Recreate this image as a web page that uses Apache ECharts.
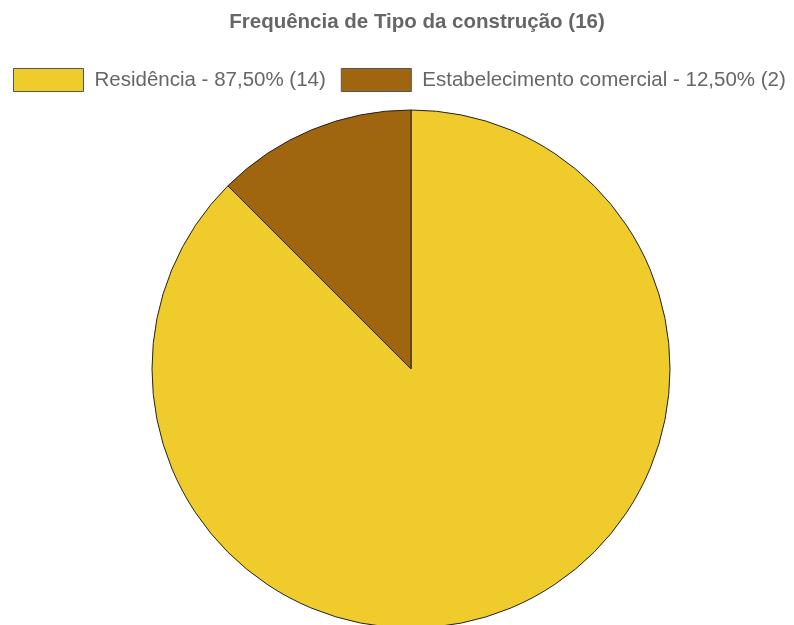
<!DOCTYPE html>
<html><head><meta charset="utf-8">
<script src="https://cdn.jsdelivr.net/npm/echarts@6/dist/echarts.min.js"></script>
<style>html,body{margin:0;padding:0;background:#fff}#c{width:794px;height:625px}</style>
</head><body><div id="c"></div>
<script>
const titleText = 'Frequência de Tipo da construção (16)';
const categories = ['Residência', 'Estabelecimento comercial'];
const values = [14, 2];
const colors = ['#F0CB2C', '#A0660F'];

const total = values.reduce((a, b) => a + b, 0);
const labelOf = {};
categories.forEach((c, i) => {
  labelOf[c] = c + ' - ' + (values[i] / total * 100).toFixed(2).replace('.', ',') + '% (' + values[i] + ')';
});

const chart = echarts.init(document.getElementById('c'), null, {renderer: 'canvas'});
chart.setOption({
  animation: false,
  title: {
    text: titleText, left: 412, top: 7, textAlign: 'center',
    textStyle: {fontFamily: 'Liberation Sans, Arial', fontSize: 20.5, fontWeight: 'bold', color: '#666'}
  },
  legend: {
    left: 8, top: 63, itemWidth: 70, itemHeight: 23, itemGap: 15,
    icon: 'rect',
    formatter: n => labelOf[n],
    textStyle: {fontFamily: 'Liberation Sans, Arial', fontSize: 20.5, color: '#666', padding: [0, 0, 0, 6]},
    itemStyle: {borderColor: '#555', borderWidth: 1}
  },
  series: [{
    type: 'pie',
    center: [411, 369],
    radius: 259,
    startAngle: 90,
    clockwise: true,
    label: {show: false},
    labelLine: {show: false},
    itemStyle: {borderColor: '#222', borderWidth: 1},
    data: categories.map((c, i) => ({name: c, value: values[i], itemStyle: {color: colors[i]}}))
  }]
});
</script></body></html>
